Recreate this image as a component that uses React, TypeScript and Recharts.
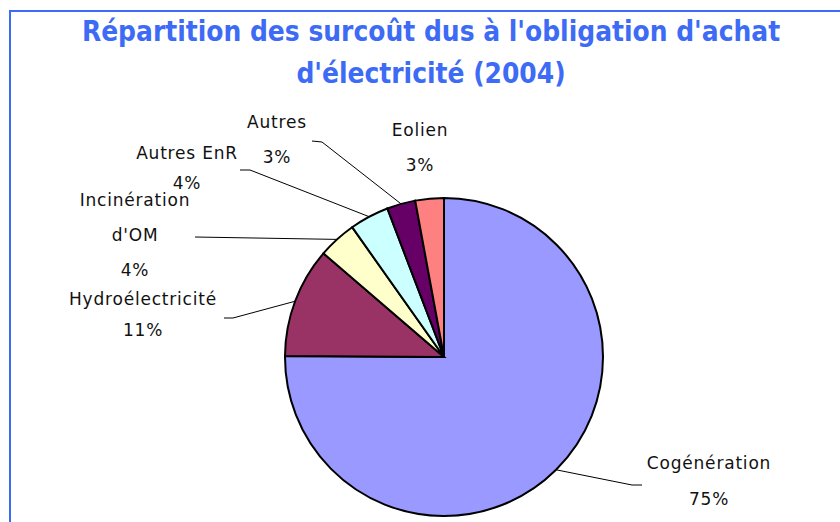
import React from 'react';
import { PieChart, Pie, Cell } from 'recharts';

const categories = ['Cogénération', 'Hydroélectricité', "Incinération d'OM", 'Autres EnR', 'Autres', 'Eolien'];
const values = [75.1, 11.2, 3.9, 4.0, 2.9, 2.9];
const colors = ['#9999FF', '#993366', '#FFFFCC', '#CCFFFF', '#660066', '#FF8080'];
const titleLines = ["Répartition des surcoût dus à l'obligation d'achat", "d'électricité (2004)"];

const data = categories.map((name, i) => ({ name, value: values[i] }));

// Label layout (manual placement as in the original), relative to pie centre
const labelLayout: Record<string, { lines: string[]; tx: number; ty: number; gap: number; path: number[][] }> = {
  'Cogénération': { lines: ['Cogénération'], tx: 265, ty: 106, gap: 36, path: [[188, 128], [198, 128]] },
  'Hydroélectricité': { lines: ['Hydroélectricité'], tx: -301, ty: -58, gap: 31, path: [[-211, -39], [-220, -39]] },
  "Incinération d'OM": { lines: ['Incinération', "d'OM"], tx: -309, ty: -157, gap: 35, path: [[-249, -120]] },
  'Autres EnR': { lines: ['Autres EnR'], tx: -257, ty: -204, gap: 30, path: [[-194, -187], [-204, -187]] },
  'Autres': { lines: ['Autres'], tx: -167, ty: -235, gap: 35, path: [[-122, -215], [-132, -216]] },
  'Eolien': { lines: ['Eolien'], tx: -24, ty: -227, gap: 35, path: [] },
};

const RAD = Math.PI / 180;

const renderLabel = (props: any) => {
  const { cx, cy, midAngle, outerRadius, name, percent } = props;
  const lay = labelLayout[name];
  if (!lay) return null;
  const ex = cx + outerRadius * Math.cos(-midAngle * RAD);
  const ey = cy + outerRadius * Math.sin(-midAngle * RAD);
  const pts = [[ex, ey], ...lay.path.map(([x, y]) => [cx + x, cy + y])];
  const allLines = [...lay.lines, `${Math.round(percent * 100)}%`];
  return (
    <g>
      {pts.length > 1 && (
        <polyline points={pts.map((p) => p.join(',')).join(' ')} fill="none" stroke="#000" strokeWidth={1} />
      )}
      {allLines.map((t, i) => (
        <text
          key={i}
          x={cx + lay.tx}
          y={cy + lay.ty + i * lay.gap}
          textAnchor="middle"
          dominantBaseline="central"
          fill="#111"
          fontSize={17}
          letterSpacing={0.8}
          fontFamily="'DejaVu Sans', sans-serif"
        >
          {t}
        </text>
      ))}
    </g>
  );
};

export default function App() {
  return (
    <div style={{ position: 'absolute', left: 0, top: 0, width: 840, height: 522, background: '#fff', overflow: 'hidden' }}>
      <div
        style={{
          position: 'absolute',
          left: 9,
          top: 10,
          width: 840,
          height: 522,
          borderLeft: '2px solid #3D6BF5',
          borderTop: '2px solid #3D6BF5',
        }}
      />
      <div
        style={{
          position: 'absolute',
          left: 11,
          top: 11,
          width: 840,
          textAlign: 'center',
          fontFamily: "'DejaVu Sans Condensed', 'DejaVu Sans', sans-serif",
          fontStretch: 'condensed',
          fontWeight: 'bold',
          fontSize: 27.8,
          lineHeight: '42px',
          color: '#3D6BF5',
        }}
      >
        {titleLines.map((t, i) => (
          <div key={i}>{t}</div>
        ))}
      </div>
      <div style={{ position: 'absolute', left: 0, top: 0 }}>
        <PieChart width={840} height={522} margin={{ top: 0, right: 0, bottom: 0, left: 0 }}>
          <Pie
            data={data}
            dataKey="value"
            nameKey="name"
            cx={444}
            cy={357}
            outerRadius={159}
            startAngle={90}
            endAngle={-270}
            stroke="#000"
            strokeWidth={2}
            label={renderLabel}
            labelLine={false}
            isAnimationActive={false}
          >
            {data.map((d, i) => (
              <Cell key={d.name} fill={colors[i]} />
            ))}
          </Pie>
        </PieChart>
      </div>
    </div>
  );
}
